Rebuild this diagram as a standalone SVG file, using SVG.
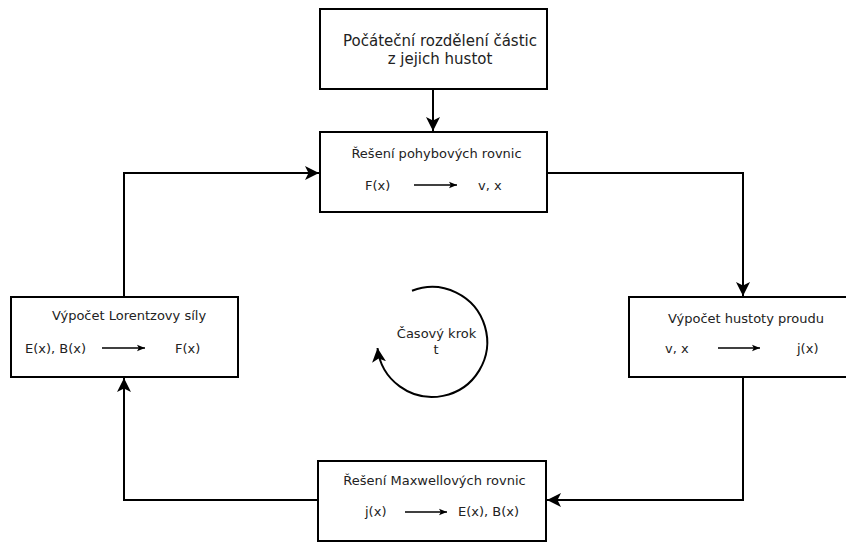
<svg xmlns="http://www.w3.org/2000/svg" width="846" height="543" viewBox="0 0 846 543">
<style>
.box{fill:#fff;stroke:#000;stroke-width:2}
.conn{fill:none;stroke:#000;stroke-width:2}
.small{fill:none;stroke:#000;stroke-width:1.5}
text{font-family:"DejaVu Sans",sans-serif;fill:#222}
.t{font-size:13px;text-anchor:middle}
.big{font-size:15px;text-anchor:middle}
.lbl{font-size:13px}
</style>
<defs>
<marker id="ah" markerUnits="userSpaceOnUse" markerWidth="16" markerHeight="16" viewBox="0 0 16 16" refX="14" refY="8" orient="auto">
<path d="M0,1 L14,8 L0,15 L3.5,8 Z" fill="#000"/>
</marker>
<marker id="sa" markerUnits="userSpaceOnUse" markerWidth="9" markerHeight="9" viewBox="0 0 9 9" refX="8" refY="4.5" orient="auto">
<path d="M0,1.2 L8,4.5 L0,7.8 L1.8,4.5 Z" fill="#000"/>
</marker>
</defs>
<g id="connectors">
<path class="conn" d="M433,89 V131" marker-end="url(#ah)"/>
<path class="conn" d="M547,173 H743 V296" marker-end="url(#ah)"/>
<path class="conn" d="M743,377 V500 H547" marker-end="url(#ah)"/>
<path class="conn" d="M318,500 H124 V378" marker-end="url(#ah)"/>
<path class="conn" d="M124,297 V173 H319" marker-end="url(#ah)"/>
</g>
<g id="start">
<rect class="box" x="320" y="9" width="227" height="80"/>
<text class="big" x="440" y="46">Počáteční rozdělení částic</text>
<text class="big" x="440" y="64">z jejich hustot</text>
</g>
<g id="motion">
<rect class="box" x="320" y="132" width="227" height="80"/>
<text class="t" x="436.5" y="158">Řešení pohybových rovnic</text>
<text class="lbl" x="365" y="190">F(x)</text>
<path class="small" d="M414,185 H457" marker-end="url(#sa)"/>
<text class="lbl" x="478" y="190">v, x</text>
</g>
<g id="current">
<rect class="box" x="629" y="297" width="227" height="80"/>
<text class="t" x="746" y="323">Výpočet hustoty proudu</text>
<text class="lbl" x="665" y="353">v, x</text>
<path class="small" d="M718,348 H760" marker-end="url(#sa)"/>
<text class="lbl" x="797" y="353">j(x)</text>
</g>
<g id="maxwell">
<rect class="box" x="318" y="461" width="228" height="80"/>
<text class="t" x="434.5" y="485">Řešení Maxwellových rovnic</text>
<text class="lbl" x="365" y="516">j(x)</text>
<path class="small" d="M405,512 H447" marker-end="url(#sa)"/>
<text class="lbl" x="458" y="516">E(x), B(x)</text>
</g>
<g id="lorentz">
<rect class="box" x="11" y="297" width="227" height="80"/>
<text class="t" x="129" y="320">Výpočet Lorentzovy síly</text>
<text class="lbl" x="25" y="353">E(x), B(x)</text>
<path class="small" d="M102,348 H145" marker-end="url(#sa)"/>
<text class="lbl" x="175" y="353">F(x)</text>
</g>
<g id="timestep">
<path class="conn" d="M412,290.8 A55,55 0 1 1 377.5,348" marker-end="url(#ah)"/>
<text class="t" x="436.5" y="338">Časový krok</text>
<text class="t" x="436" y="354">t</text>
</g>
</svg>
